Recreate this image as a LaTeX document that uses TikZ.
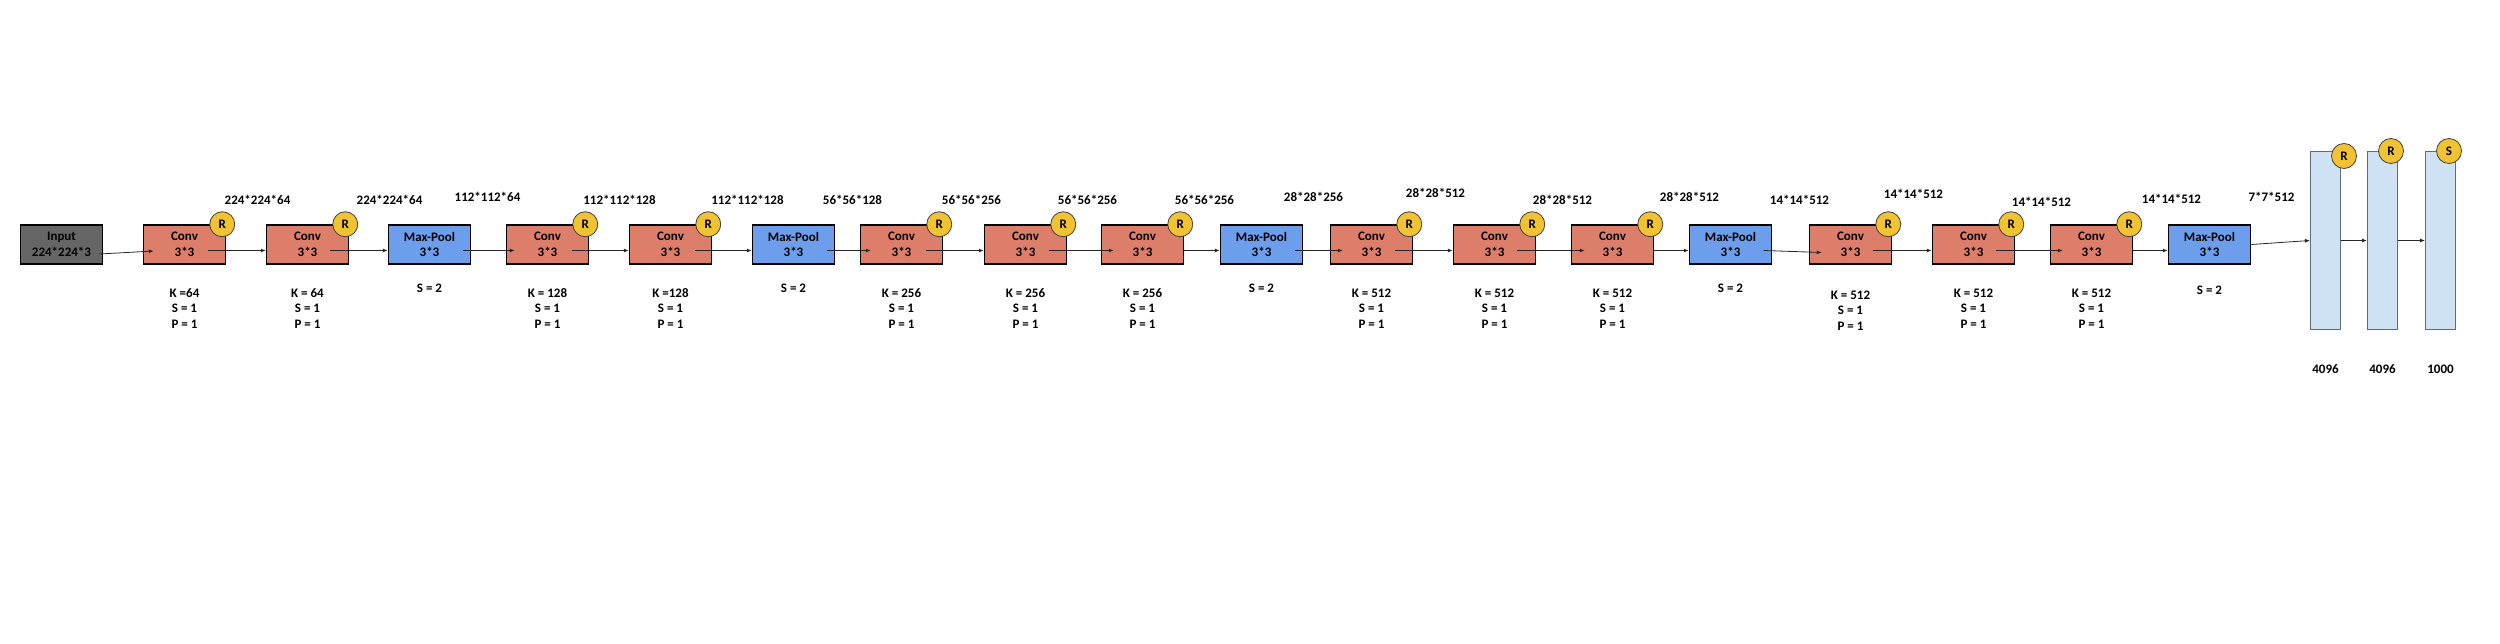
\documentclass[tikz,border=0pt]{standalone}
\usepackage{fontspec}
\setmainfont{Carlito}
\usetikzlibrary{arrows.meta}
\definecolor{convred}{HTML}{DD7E6B}
\definecolor{poolblue}{HTML}{6D9EEB}
\definecolor{inputgray}{HTML}{666666}
\definecolor{relu}{HTML}{F1C232}
\definecolor{fcblue}{HTML}{CFE2F3}
\definecolor{fcline}{HTML}{5F6B7A}
\begin{document}
\begin{tikzpicture}[font=\fontsize{13pt}{15.5pt}\selectfont\bfseries, text=black,
  block/.style={draw=black, line width=1.5pt, rectangle, minimum width=82pt, minimum height=39pt, align=center, inner sep=0pt},
  conv/.style={block, fill=convred},
  pool/.style={block, fill=poolblue},
  fc/.style={draw=fcline, line width=1pt, rectangle, fill=fcblue, minimum width=30pt, minimum height=178pt, inner sep=0pt},
  act/.style={draw=black!75, line width=0.8pt, circle, fill=relu, minimum size=25pt, inner sep=0pt},
  dim/.style={node distance=44.5pt},
  param/.style={align=center, node distance=64pt},
  link/.style={-{Latex[length=5pt,width=4pt]}, line width=0.8pt, draw=black!85}]
\useasboundingbox (-61.5pt,-399.5pt) rectangle (2438.5pt,244.5pt);
% layers
\node (in) [block, fill=inputgray] at (0,0) {Input\\224*224*3};
\node (cA) [conv, right of=in, node distance=123pt] {Conv\\3*3};
\node (cB) [conv, right of=cA, node distance=123pt] {Conv\\3*3};
\node (mA) [pool, right of=cB, node distance=122pt] {Max-Pool\\3*3};
\node (cC) [conv, right of=mA, node distance=118pt] {Conv\\3*3};
\node (cD) [conv, right of=cC, node distance=123pt] {Conv\\3*3};
\node (mB) [pool, right of=cD, node distance=123pt] {Max-Pool\\3*3};
\node (cE) [conv, right of=mB, node distance=108pt] {Conv\\3*3};
\node (cF) [conv, right of=cE, node distance=124pt] {Conv\\3*3};
\node (cG) [conv, right of=cF, node distance=117pt] {Conv\\3*3};
\node (mC) [pool, right of=cG, node distance=119pt] {Max-Pool\\3*3};
\node (cH) [conv, right of=mC, node distance=110pt] {Conv\\3*3};
\node (cI) [conv, right of=cH, node distance=123pt] {Conv\\3*3};
\node (cJ) [conv, right of=cI, node distance=118pt] {Conv\\3*3};
\node (mD) [pool, right of=cJ, node distance=118pt] {Max-Pool\\3*3};
\node (cK) [conv, right of=mD, node distance=120pt] {Conv\\3*3};
\node (cL) [conv, right of=cK, node distance=123pt] {Conv\\3*3};
\node (cM) [conv, right of=cL, node distance=118pt] {Conv\\3*3};
\node (mE) [pool, right of=cM, node distance=118pt] {Max-Pool\\3*3};
\node (fcA) [fc, right of=mE, node distance=116pt, yshift=4pt] {};
\node (fcB) [fc, right of=fcA, node distance=57pt] {};
\node (fcC) [fc, right of=fcB, node distance=58pt] {};
% connectors
\draw [link] ([shift={(38pt,-9.5pt)}]in.center) -- ([shift={(11pt,-6.5pt)}]cA.west);
\draw [link] ([shift={(23pt,-6pt)}]cA.center) -- ([yshift=-6pt]cB.west);
\draw [link] ([shift={(22pt,-6pt)}]cB.center) -- ([yshift=-6pt]mA.west);
\draw [link] ([shift={(33pt,-6pt)}]mA.center) -- ([shift={(9pt,-6pt)}]cC.west);
\draw [link] ([shift={(24pt,-6pt)}]cC.center) -- ([yshift=-6pt]cD.west);
\draw [link] ([shift={(24pt,-6pt)}]cD.center) -- ([yshift=-6pt]mB.west);
\draw [link] ([shift={(33pt,-6pt)}]mB.center) -- ([shift={(11pt,-6pt)}]cE.west);
\draw [link] ([shift={(24pt,-6pt)}]cE.center) -- ([yshift=-6pt]cF.west);
\draw [link] ([shift={(23pt,-6pt)}]cF.center) -- ([shift={(13pt,-6pt)}]cG.west);
\draw [link] ([yshift=-6pt]cG.east) -- ([yshift=-6pt]mC.west);
\draw [link] ([shift={(33pt,-6pt)}]mC.center) -- ([shift={(13pt,-6pt)}]cH.west);
\draw [link] ([shift={(23pt,-6pt)}]cH.center) -- ([yshift=-6pt]cI.west);
\draw [link] ([shift={(22pt,-6pt)}]cI.center) -- ([shift={(14pt,-6pt)}]cJ.west);
\draw [link] ([yshift=-6pt]cJ.east) -- ([yshift=-6pt]mD.west);
\draw [link] ([shift={(33pt,-6pt)}]mD.center) -- ([shift={(13pt,-8pt)}]cK.west);
\draw [link] ([shift={(22pt,-6pt)}]cK.center) -- ([yshift=-6pt]cL.west);
\draw [link] ([shift={(22pt,-6pt)}]cL.center) -- ([shift={(13pt,-6pt)}]cM.west);
\draw [link] ([yshift=-6pt]cM.east) -- ([yshift=-6pt]mE.west);
\draw [link] (mE.east) -- (fcA.west);
\draw [link] (fcA.east) -- (fcB.west);
\draw [link] (fcB.east) -- (fcC.west);
% activations
\node (rA) [act] at ([xshift=-4pt]cA.north east) {R};
\node (rB) [act] at ([xshift=-4pt]cB.north east) {R};
\node (rC) [act] at ([xshift=-4pt]cC.north east) {R};
\node (rD) [act] at ([xshift=-4pt]cD.north east) {R};
\node (rE) [act] at ([xshift=-4pt]cE.north east) {R};
\node (rF) [act] at ([xshift=-4pt]cF.north east) {R};
\node (rG) [act] at ([xshift=-4pt]cG.north east) {R};
\node (rH) [act] at ([xshift=-4pt]cH.north east) {R};
\node (rI) [act] at ([xshift=-4pt]cI.north east) {R};
\node (rJ) [act] at ([xshift=-4pt]cJ.north east) {R};
\node (rK) [act] at ([xshift=-4pt]cK.north east) {R};
\node (rL) [act] at ([xshift=-4pt]cL.north east) {R};
\node (rM) [act] at ([xshift=-4pt]cM.north east) {R};
\node (rN) [act] at ([shift={(3pt,-5pt)}]fcA.north east) {R};
\node (rO) [act] at ([xshift=-7pt]fcB.north east) {R};
\node (sA) [act] at ([xshift=-7pt]fcC.north east) {S};
% output sizes
\node (dA) [dim, above of=cA, xshift=73pt] {224*224*64};
\node (dB) [dim, above of=cB, xshift=82pt] {224*224*64};
\node (dC) [dim, above of=mA, xshift=58pt, node distance=47.5pt] {112*112*64};
\node (dD) [dim, above of=cC, xshift=72pt] {112*112*128};
\node (dE) [dim, above of=cD, xshift=77pt] {112*112*128};
\node (dF) [dim, above of=mB, xshift=59pt] {56*56*128};
\node (dG) [dim, above of=cE, xshift=70pt] {56*56*256};
\node (dH) [dim, above of=cF, xshift=62pt] {56*56*256};
\node (dI) [dim, above of=cG, xshift=62pt] {56*56*256};
\node (dJ) [dim, above of=mC, xshift=52pt, node distance=47.5pt] {28*28*256};
\node (dK) [dim, above of=cH, xshift=64pt, node distance=51.5pt] {28*28*512};
\node (dL) [dim, above of=cI, xshift=68pt] {28*28*512};
\node (dM) [dim, above of=cJ, xshift=77pt, node distance=47.5pt] {28*28*512};
\node (dN) [dim, above of=mD, xshift=69pt] {14*14*512};
\node (dO) [dim, above of=cK, xshift=63pt, node distance=50.5pt] {14*14*512};
\node (dP) [dim, above of=cL, xshift=68pt, node distance=42.5pt] {14*14*512};
\node (dQ) [dim, above of=cM, xshift=80pt, node distance=45.5pt] {14*14*512};
\node (dR) [dim, above of=mE, xshift=62pt, node distance=47.5pt] {7*7*512};
% hyper-parameters
\node (pA) [param, below of=cA] {K =64\\S = 1\\P = 1};
\node (pB) [param, below of=cB] {K = 64\\S = 1\\P = 1};
\node (qA) [param, below of=mA, node distance=44pt] {S = 2};
\node (pC) [param, below of=cC] {K = 128\\S = 1\\P = 1};
\node (pD) [param, below of=cD] {K =128\\S = 1\\P = 1};
\node (qB) [param, below of=mB, node distance=44pt] {S = 2};
\node (pE) [param, below of=cE] {K = 256\\S = 1\\P = 1};
\node (pF) [param, below of=cF] {K = 256\\S = 1\\P = 1};
\node (pG) [param, below of=cG] {K = 256\\S = 1\\P = 1};
\node (qC) [param, below of=mC, node distance=44pt] {S = 2};
\node (pH) [param, below of=cH] {K = 512\\S = 1\\P = 1};
\node (pI) [param, below of=cI] {K = 512\\S = 1\\P = 1};
\node (pJ) [param, below of=cJ] {K = 512\\S = 1\\P = 1};
\node (qD) [param, below of=mD, node distance=44pt] {S = 2};
\node (pK) [param, below of=cK, node distance=66pt] {K = 512\\S = 1\\P = 1};
\node (pL) [param, below of=cL] {K = 512\\S = 1\\P = 1};
\node (pM) [param, below of=cM] {K = 512\\S = 1\\P = 1};
\node (qE) [param, below of=mE, node distance=46pt] {S = 2};
\node (nA) [below of=fcA, node distance=128.5pt] {4096};
\node (nB) [below of=fcB, node distance=128.5pt] {4096};
\node (nC) [below of=fcC, node distance=128.5pt] {1000};
\end{tikzpicture}
\end{document}
